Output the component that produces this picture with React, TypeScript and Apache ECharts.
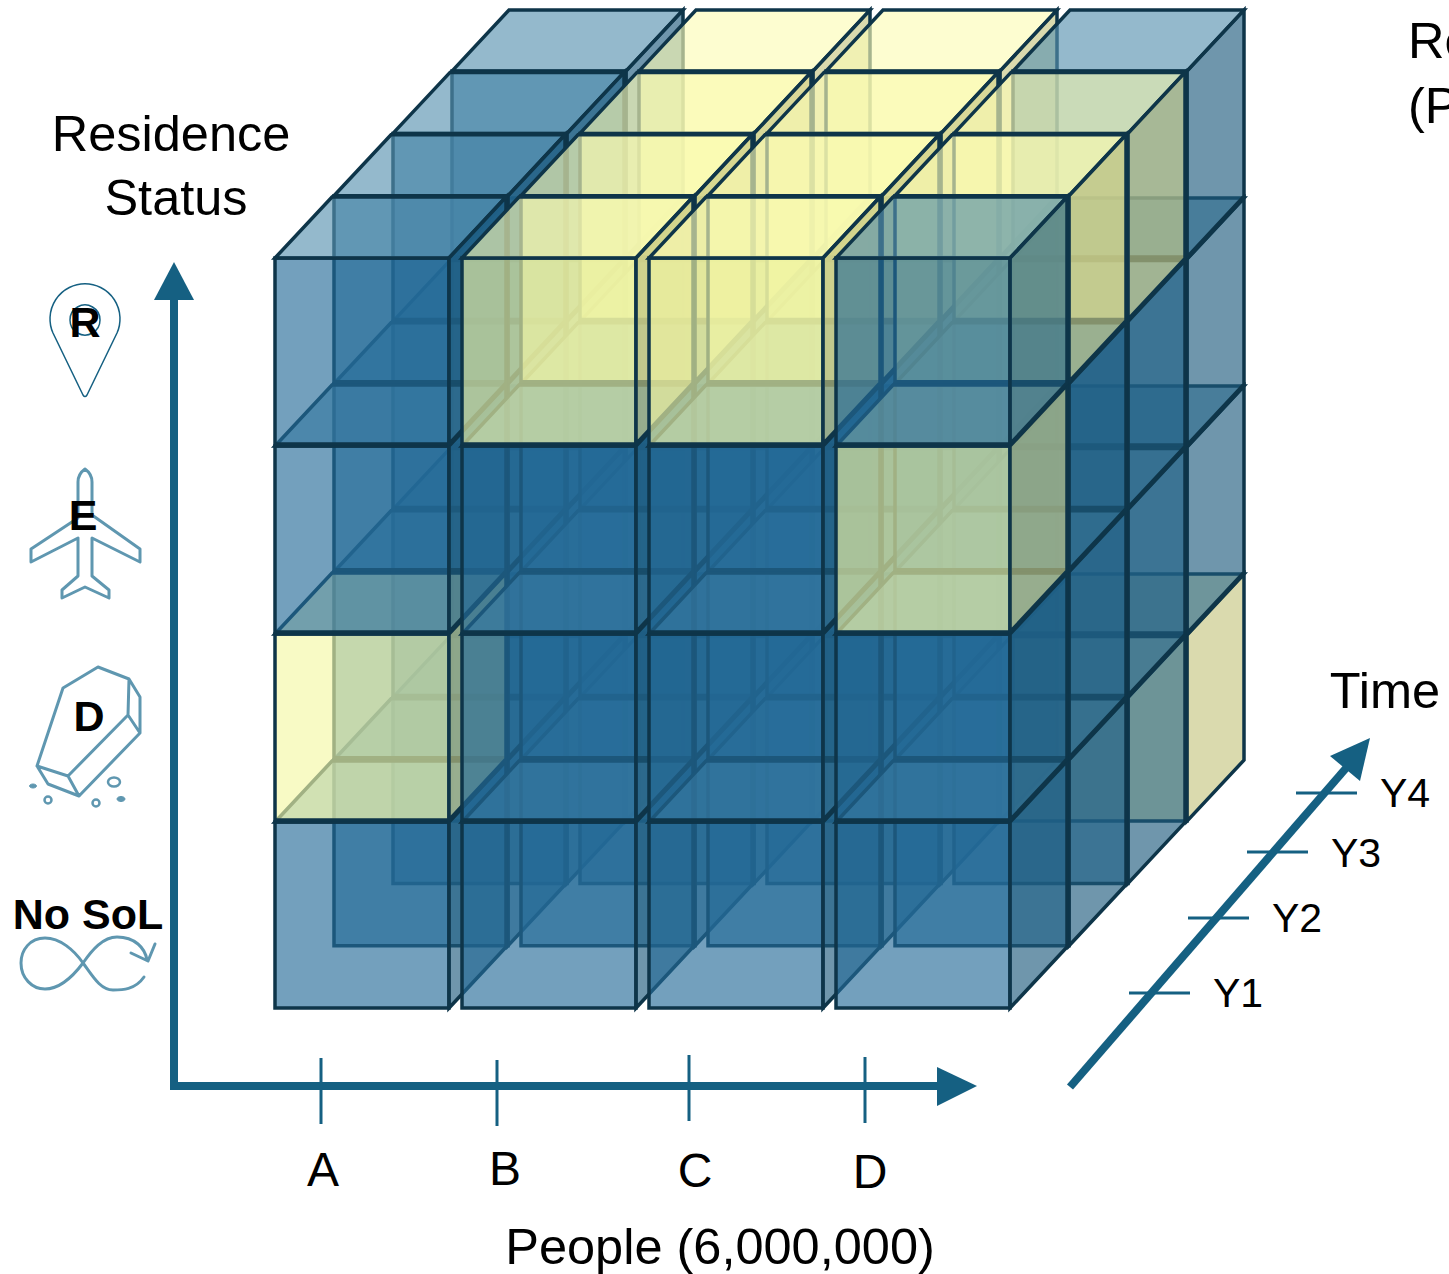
import React, { useEffect, useRef } from "react";
import * as echarts from "echarts";

const people = ["A", "B", "C", "D"];
const statuses = ["R", "E", "D", "No SoL"];
const years = ["Y1", "Y2", "Y3", "Y4"];

// 1 = highlighted (yellow) cell; rows follow statuses, columns follow people
const cellsY1 = [[0, 1, 1, 0], [0, 0, 0, 1], [1, 0, 0, 0], [0, 0, 0, 0]];
const cellsY2 = [[0, 1, 1, 1], [0, 0, 0, 0], [0, 0, 0, 0], [0, 0, 0, 0]];
const cellsY3 = [[0, 1, 1, 1], [0, 0, 0, 0], [0, 0, 0, 0], [0, 0, 0, 0]];
const cellsY4 = [[0, 1, 1, 0], [0, 0, 0, 0], [0, 0, 0, 0], [0, 0, 0, 1]];
const cellsByYear = [cellsY1, cellsY2, cellsY3, cellsY4];

const W = 1449;
const H = 1274;
const COL_PX = 187;
const ROW_PX = 188;
const ORIGIN_X = 275;
const ORIGIN_Y = 258;
const CUBE_W = 174 / COL_PX;
const CUBE_H = 186 / ROW_PX;
const DEPTH_X = 57 / COL_PX;
const DEPTH_Y = -61 / ROW_PX;
const STEP_X = 59 / COL_PX;
const STEP_Y = -62.3 / ROW_PX;

const BLUE = { front: "rgba(36,107,151,0.64)", top: "rgba(88,146,175,0.64)", right: "rgba(30,91,125,0.64)" };
const YELLOW = { front: "rgba(244,247,164,0.64)", top: "rgba(252,252,182,0.64)", right: "rgba(197,197,128,0.64)" };
const EDGE = "#0e3549";
const AXIS = "#156082";
const ICON = "#5f97b0";

const PIN = "M53 333 A35 35 0 1 1 117 333 L87 395 Q85 398 83 395 Z";
const PLANE =
  "M85 469 Q78 474 78 482 L78 518 L31 549 L31 562 L78 538 L78 576 L62 590 L62 598 L85 587 L109 598 L109 590 L92 576 L92 538 L140 562 L140 549 L92 515 L92 482 Q92 474 85 469 Z";
const COFFIN =
  "M63 688 L98 667 L129 679 L140 697 L140 733 L79 796 L48 784 L37 766 Z M129 679 L128 715 L140 733 M128 715 L68 776 L79 796 M68 776 L37 766";
const INFINITY_LOOP =
  "M144 977 C135 990 122 990 113 990 C100 990 92 975 83 963 C74 950 60 938 45 938 C30 938 21 950 21 963 C21 978 32 989 45 989 C60 989 74 975 83 963 C92 950 103 937 117 937 C135 937 145 948 147 960 M131 953 L148 961 L155 944";

const xTickPos = [
  [321, 1058],
  [497, 1060],
  [689, 1055],
  [865, 1057],
];
const xLabelPos = [
  [323, 1169],
  [505, 1168],
  [695, 1170],
  [870, 1171],
];
const yearTickPos = [
  [1129, 993],
  [1188, 918],
  [1247, 852],
  [1296, 793],
];
const yearLabelPos = [
  [1213, 993],
  [1272, 918],
  [1331, 853],
  [1380, 793],
];
const statusLabelPos = [
  [85, 322],
  [83, 515],
  [89, 716],
  [88, 914],
];

const FONT = "Liberation Sans";

function label(text: string, x: number, y: number, align = "center", size = 50.5, weight = "normal") {
  return {
    type: "text",
    x,
    y,
    silent: true,
    style: { text, fontSize: size, fontFamily: FONT, fontWeight: weight, fill: "#000", align, verticalAlign: "middle" },
  };
}

function line(x1: number, y1: number, x2: number, y2: number, width: number, stroke = AXIS) {
  return { type: "line", shape: { x1, y1, x2, y2 }, style: { stroke, lineWidth: width }, silent: true };
}

function buildData() {
  const rows: number[][] = [];
  for (let layer = years.length - 1; layer >= 0; layer--) {
    for (let row = statuses.length - 1; row >= 0; row--) {
      for (let col = 0; col < people.length; col++) {
        rows.push([col, row, layer, cellsByYear[layer][row][col]]);
      }
    }
  }
  return rows;
}

function renderCube(_: any, api: any) {
  const col = api.value(0);
  const row = api.value(1);
  const layer = api.value(2);
  const palette = api.value(3) ? YELLOW : BLUE;
  const x0 = col + layer * STEP_X;
  const y0 = row + layer * STEP_Y;
  const p = (x: number, y: number) => api.coord([x, y]);
  const a = p(x0, y0);
  const b = p(x0 + CUBE_W, y0);
  const c = p(x0 + CUBE_W, y0 + CUBE_H);
  const d = p(x0, y0 + CUBE_H);
  const a2 = p(x0 + DEPTH_X, y0 + DEPTH_Y);
  const b2 = p(x0 + CUBE_W + DEPTH_X, y0 + DEPTH_Y);
  const c2 = p(x0 + CUBE_W + DEPTH_X, y0 + CUBE_H + DEPTH_Y);
  const face = (points: number[][], fill: string) => ({
    type: "polygon",
    shape: { points },
    style: { fill, stroke: EDGE, lineWidth: 3.5, lineJoin: "miter" },
  });
  return {
    type: "group",
    children: [
      face([a, b, c, d], palette.front),
      face([a, a2, b2, b], palette.top),
      face([b, b2, c2, c], palette.right),
    ],
  };
}

export default function App() {
  const ref = useRef<HTMLDivElement>(null);
  useEffect(() => {
    document.body.style.margin = "0";
    echarts.graphic.registerShape("pinIcon", echarts.graphic.extendPath(PIN, {}));
    echarts.graphic.registerShape("planeIcon", echarts.graphic.extendPath(PLANE, {}));
    echarts.graphic.registerShape("coffinIcon", echarts.graphic.extendPath(COFFIN, {}));
    echarts.graphic.registerShape("loopIcon", echarts.graphic.extendPath(INFINITY_LOOP, {}));

    const chart = echarts.init(ref.current!, undefined, { renderer: "svg" });
    const icon = (type: string, stroke: string, lineWidth: number) => ({
      type,
      x: 0,
      y: 0,
      silent: true,
      style: { fill: "none", stroke, lineWidth, lineJoin: "round", lineCap: "round" },
    });
    const pebble = (cx: number, cy: number, rx: number, ry: number, filled: boolean) => ({
      type: "ellipse",
      shape: { cx, cy, rx, ry },
      silent: true,
      style: { fill: filled ? ICON : "none", stroke: ICON, lineWidth: filled ? 1 : 2.5 },
    });

    chart.setOption({
      animation: false,
      backgroundColor: "#fff",
      grid: { left: 0, right: 0, top: 0, bottom: 0 },
      xAxis: { type: "value", min: -ORIGIN_X / COL_PX, max: (W - ORIGIN_X) / COL_PX, show: false },
      yAxis: { type: "value", inverse: true, min: -ORIGIN_Y / ROW_PX, max: (H - ORIGIN_Y) / ROW_PX, show: false },
      series: [
        {
          type: "custom",
          coordinateSystem: "cartesian2d",
          clip: false,
          silent: true,
          data: buildData(),
          renderItem: renderCube,
        },
      ],
      graphic: [
        // vertical axis
        line(174, 1090, 174, 298, 8),
        { type: "polygon", silent: true, shape: { points: [[174, 262], [194, 300], [154, 300]] }, style: { fill: AXIS } },
        // horizontal axis
        line(170, 1086, 940, 1086, 8),
        { type: "polygon", silent: true, shape: { points: [[977, 1086], [937, 1067], [937, 1106]] }, style: { fill: AXIS } },
        ...xTickPos.map(([x, y]) => line(x, y, x, y + 66, 3)),
        ...people.map((t, i) => label(t, xLabelPos[i][0], xLabelPos[i][1], "center", 48)),
        // time axis
        line(1070, 1087, 1347, 767, 8),
        { type: "polygon", silent: true, shape: { points: [[1370, 738], [1330, 756], [1360, 781]] }, style: { fill: AXIS } },
        ...yearTickPos.map(([x, y]) => line(x, y, x + 61, y, 3)),
        ...years.map((t, i) => label(t, yearLabelPos[i][0], yearLabelPos[i][1], "left", 41)),
        // titles
        label("Residence", 171, 133),
        label("Status", 176, 197),
        label("Time", 1385, 690),
        label("People (6,000,000)", 720, 1246),
        label("Re", 1408, 40, "left"),
        label("(P", 1408, 105, "left"),
        // status icons
        icon("pinIcon", AXIS, 1.5),
        { type: "circle", silent: true, shape: { cx: 85, cy: 320, r: 15 }, style: { fill: "none", stroke: AXIS, lineWidth: 1.5 } },
        icon("planeIcon", ICON, 3),
        icon("coffinIcon", ICON, 3),
        pebble(33, 786, 3.5, 2, true),
        pebble(48, 800, 3.5, 3.5, false),
        pebble(96, 803, 3.5, 3.5, false),
        pebble(114, 782, 6, 4.5, false),
        pebble(121, 799, 4, 2.5, true),
        icon("loopIcon", ICON, 3),
        ...statuses.map((t, i) => label(t, statusLabelPos[i][0], statusLabelPos[i][1], "center", 43, "bold")),
      ],
    });
    return () => chart.dispose();
  }, []);
  return (
    <div
      ref={ref}
      style={{ position: "absolute", left: 0, top: 0, width: W, height: H, overflow: "hidden" }}
    />
  );
}
